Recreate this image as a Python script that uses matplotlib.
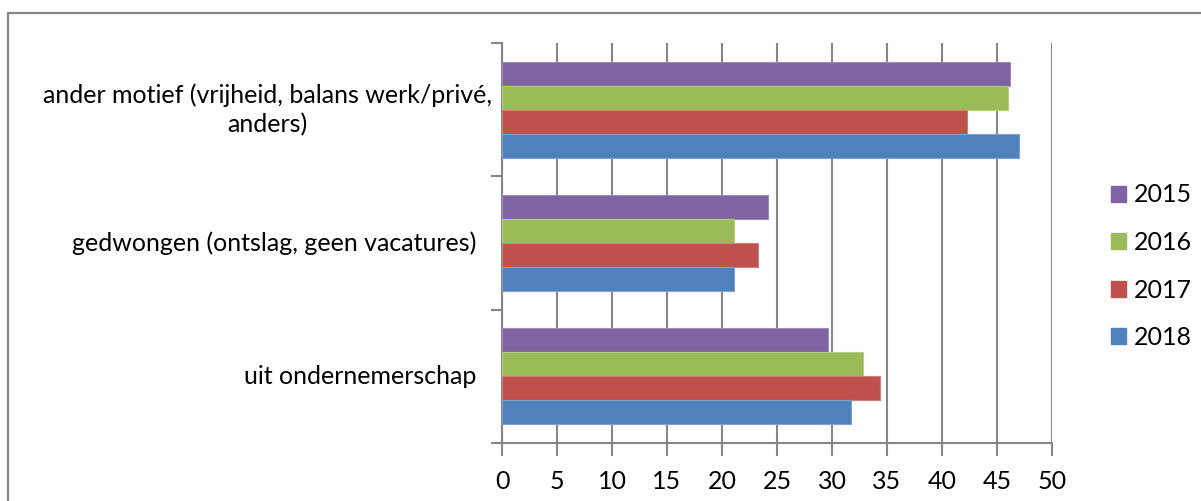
import matplotlib
matplotlib.use("Agg")
import matplotlib.pyplot as plt
from matplotlib.patches import Rectangle
from matplotlib.transforms import blended_transform_factory
import numpy as np

plt.rcParams['font.family'] = ['Lato', 'DejaVu Sans']

categories = ["uit ondernemerschap",
              "gedwongen (ontslag, geen vacatures)",
              "ander motief (vrijheid, balans werk/privé,\nanders)"]
years = ["2015", "2016", "2017", "2018"]
values = {
    "2015": [29.6, 24.2, 46.2],
    "2016": [32.8, 21.1, 46.0],
    "2017": [34.4, 23.3, 42.3],
    "2018": [31.7, 21.1, 47.0],
}
colors = {"2015": "#8064A2", "2016": "#9BBB59", "2017": "#C0504D", "2018": "#4F81BD"}
edges = {"2015": "#9F88BA", "2016": "#B4CF80", "2017": "#D27C7A", "2018": "#7EA1CF"}
xticks = list(range(0, 51, 5))

FS = 18
W, H = 1201, 501
fig = plt.figure(figsize=(W / 100, H / 100), dpi=100)
fig.patches.append(Rectangle((8 / W, -0.1), 1.2, (H - 13) / H + 0.1,
                             transform=fig.transFigure, fill=False,
                             edgecolor="#878787", lw=1.6))

ax = fig.add_axes([502 / W, 58 / H, 550 / W, 400 / H])
bh = 0.18
y = np.arange(len(categories))
offsets = {"2015": 1.5 * bh, "2016": 0.5 * bh, "2017": -0.5 * bh, "2018": -1.5 * bh}
for yr in years:
    ax.barh(y + offsets[yr], values[yr], height=bh, color=colors[yr],
            edgecolor=edges[yr], lw=0.8, label=yr, zorder=3)

ax.set_xlim(0, 50)
ax.set_ylim(-0.5, 2.5)
ax.set_xticks(xticks)
ax.set_xticklabels([str(t) for t in xticks], fontsize=FS)
ax.set_yticks([-0.5, 0.5, 1.5, 2.5])
ax.set_yticklabels([])
ax.tick_params(axis='x', length=9, width=1.5, color="#868686", pad=10.5)
ax.tick_params(axis='y', length=8, width=1.5, color="#868686")
ax.grid(axis='x', color="#868686", lw=1.5, zorder=0)
for s in ["top", "right"]:
    ax.spines[s].set_visible(False)
for s in ["left", "bottom"]:
    ax.spines[s].set_color("#868686")
    ax.spines[s].set_linewidth(1.5)

tr = blended_transform_factory(fig.transFigure, ax.transData)
label_right = [476, 476, 492]
for i, c in enumerate(categories):
    ax.text(label_right[i] / W, y[i], c, transform=tr, ha='right', va='center',
            multialignment='center', fontsize=FS, linespacing=1.3)

handles = [Rectangle((0, 0), 1, 1, color=colors[yr]) for yr in years]
leg = fig.legend(handles, years, loc='upper left', bbox_to_anchor=(1098 / W, 1 - 171 / H),
                 frameon=False, fontsize=FS, handlelength=0.62, handleheight=0.62,
                 handletextpad=0.3, labelspacing=0.98, borderpad=0)

fig.savefig("out.png", dpi=100)
